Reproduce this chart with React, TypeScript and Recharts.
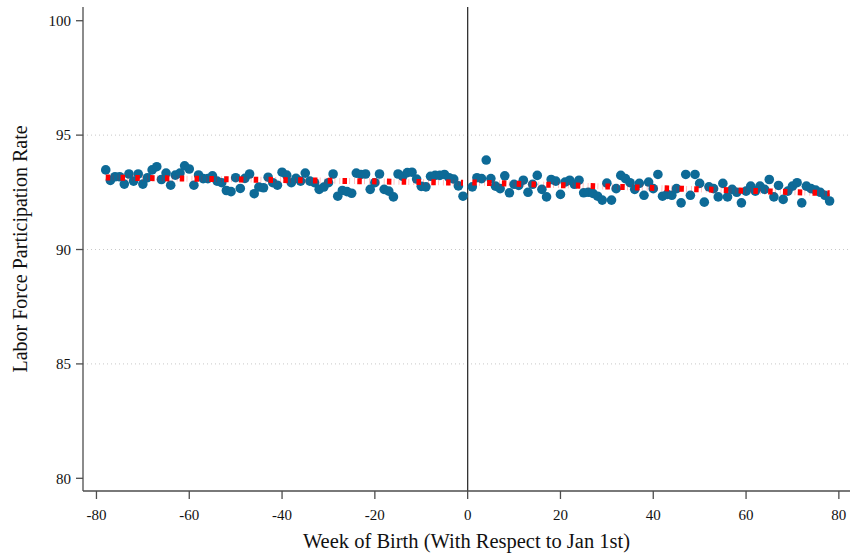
import React from 'react';
import { ComposedChart, Scatter, Line, XAxis, YAxis, ReferenceLine, Label } from 'recharts';

// Weekly means, weeks -78..-1 (born before Jan 1st)
const leftRates = [
  93.48, 93.02, 93.18, 93.18, 92.86, 93.3, 92.99, 93.3, 92.86, 93.14,
  93.48, 93.62, 93.06, 93.34, 92.81, 93.25, 93.34, 93.66, 93.52, 92.81,
  93.26, 93.1, 93.1, 93.22, 92.99, 92.92, 92.58, 92.53, 93.14, 92.67,
  93.11, 93.3, 92.44, 92.73, 92.7, 93.16, 92.92, 92.81, 93.38, 93.25,
  92.92, 93.11, 92.99, 93.34, 92.99, 92.92, 92.63, 92.73, 92.92, 93.3,
  92.33, 92.58, 92.53, 92.46, 93.34, 93.28, 93.3, 92.63, 92.92, 93.3,
  92.63, 92.55, 92.3, 93.3, 93.2, 93.36, 93.38, 93.08, 92.76, 92.74,
  93.2, 93.24, 93.24, 93.28, 93.14, 93.08, 92.78, 92.33,
];

// Weekly means, weeks 1..78 (born after Jan 1st)
const rightRates = [
  92.74, 93.14, 93.1, 93.91, 93.1, 92.77, 92.66, 93.22, 92.48, 92.85,
  92.8, 93.03, 92.5, 92.85, 93.24, 92.63, 92.3, 93.06, 92.99, 92.41,
  92.95, 93.03, 92.85, 93.03, 92.48, 92.5, 92.45, 92.33, 92.16, 92.9,
  92.16, 92.66, 93.24, 93.1, 92.92, 92.63, 92.89, 92.37, 92.95, 92.66,
  93.28, 92.33, 92.41, 92.37, 92.66, 92.04, 93.28, 92.37, 93.28, 92.89,
  92.07, 92.74, 92.66, 92.3, 92.89, 92.3, 92.63, 92.5, 92.04, 92.55,
  92.77, 92.55, 92.77, 92.63, 93.06, 92.3, 92.8, 92.19, 92.55, 92.77,
  92.92, 92.04, 92.77, 92.66, 92.6, 92.5, 92.37, 92.12,
];

// Linear fit on each side of the cutoff: [start, end]
const leftFitWeeks = [-78, -1];
const leftFitValues = [93.15, 92.92];
const rightFitWeeks = [1, 78];
const rightFitValues = [92.93, 92.46];

const xTicks = [-80, -60, -40, -20, 0, 20, 40, 60, 80];
const yTicks = [80, 85, 90, 95, 100];
const gridValues = [85, 90, 95];

const leftWeeks = leftRates.map((_, i) => i - 78);
const rightWeeks = rightRates.map((_, i) => i + 1);

const points = [
  ...leftWeeks.map((w, i) => ({ week: w, rate: leftRates[i] })),
  ...rightWeeks.map((w, i) => ({ week: w, rate: rightRates[i] })),
];
const leftFit = leftFitWeeks.map((w, i) => ({ week: w, fit: leftFitValues[i] }));
const rightFit = rightFitWeeks.map((w, i) => ({ week: w, fit: rightFitValues[i] }));

const FONT = '"Liberation Serif", "Times New Roman", serif';
const AXIS = '#4d4d4d';
const TEXT = '#111';
const DOT = '#0d6a97';

const Dot = (props: any) => <circle cx={props.cx} cy={props.cy} r={4.8} fill={DOT} />;

// fitted line goes on top of the dots
const fitLine = (data: any[], key: string) => [
  <Line
    key={key + '-thin'}
    data={data}
    dataKey="fit"
    type="linear"
    dot={false}
    stroke="#ff0000"
    strokeOpacity={0.3}
    strokeWidth={6}
    strokeDasharray="0.8 4.13"
    strokeDashoffset={2.93}
    zIndex={900}
    isAnimationActive={false}
  />,
  <Line
    key={key}
    data={data}
    dataKey="fit"
    type="linear"
    dot={false}
    stroke="#ff0000"
    strokeWidth={6}
    strokeDasharray="4.5 10.3"
    zIndex={900}
    isAnimationActive={false}
  />,
];

export default function App() {
  return (
    <div style={{ position: 'absolute', left: 0, top: 0, background: '#fff' }}>
      <ComposedChart
        width={851}
        height={554}
        margin={{ top: 7, right: 1, left: 0, bottom: 0 }}
        style={{ fontFamily: FONT }}
      >
        {gridValues.map((v) => (
          <ReferenceLine key={v} y={v} stroke="#c8c8c8" strokeDasharray="1 3" />
        ))}
        <XAxis
          dataKey="week"
          type="number"
          domain={[-82.9, 82.4]}
          ticks={xTicks}
          allowDataOverflow
          height={63}
          stroke={AXIS}
          strokeWidth={1.3}
          tickSize={8}
          tickMargin={10}
          tick={{ fill: TEXT, fontSize: 15, fontFamily: FONT }}
          tickLine={{ stroke: AXIS, strokeWidth: 1.3 }}
        >
          <Label
            value="Week of Birth (With Respect to Jan 1st)"
            position="insideBottom"
            offset={6}
            style={{ fill: TEXT, fontSize: 20.5, fontFamily: FONT }}
          />
        </XAxis>
        <YAxis
          type="number"
          domain={[79.445, 100.6]}
          ticks={yTicks}
          allowDataOverflow
          width={83}
          stroke={AXIS}
          strokeWidth={1.3}
          tickSize={7}
          tickMargin={5}
          tick={{ fill: TEXT, fontSize: 15, fontFamily: FONT }}
          tickLine={{ stroke: AXIS, strokeWidth: 1.3 }}
        >
          <Label
            value="Labor Force Participation Rate"
            angle={-90}
            position="insideLeft"
            offset={20}
            style={{ textAnchor: 'middle', fill: TEXT, fontSize: 20, fontFamily: FONT }}
          />
        </YAxis>
        <ReferenceLine x={0} stroke="#333" strokeWidth={1.3} />
        <Scatter data={points} dataKey="rate" shape={Dot} isAnimationActive={false} />
        {fitLine(leftFit, 'left')}
        {fitLine(rightFit, 'right')}
      </ComposedChart>
    </div>
  );
}
